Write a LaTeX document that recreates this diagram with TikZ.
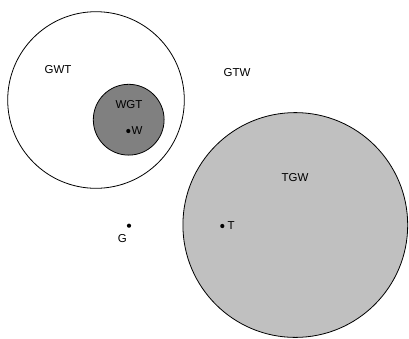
\documentclass[tikz,border=0pt]{standalone}
\usepackage{fontspec}
\setmainfont{Liberation Sans}
\begin{document}
\begin{tikzpicture}[x=1pt,y=-1pt,
  region/.style={draw=black,line width=0.8pt},
  lbl/.style={font=\fontsize{11.5}{13}\selectfont,inner sep=0pt},
  pt/.style={circle,fill=black,inner sep=0pt,minimum size=4.2pt}]
\useasboundingbox (0,0) rectangle (409,338);
% regions
\draw[region,fill=white] (96,100) circle (88.3);
\draw[region,fill={rgb,255:red,128;green,128;blue,128}] (128.7,119.7) circle (35.4);
\draw[region,fill={rgb,255:red,192;green,192;blue,192}] (295.3,225) circle (112.4);
% region labels
\node[lbl] (gwt) at (58,70) {GWT};
\node[lbl] (wgt) at (129,104.5) {WGT};
\node[lbl] (gtw) at (237,73) {GTW};
\node[lbl] (tgw) at (295,178) {TGW};
% points
\node[pt] (w) at (128.3,131) {};
\node[lbl,anchor=west] (wl) at (131.5,131) {W};
\node[pt] (t) at (222.3,226) {};
\node[lbl,anchor=west] (tl) at (227.5,226) {T};
\node[pt] (g) at (129,225.7) {};
\node[lbl] (gl) at (122.3,238.5) {G};
\end{tikzpicture}
\end{document}
